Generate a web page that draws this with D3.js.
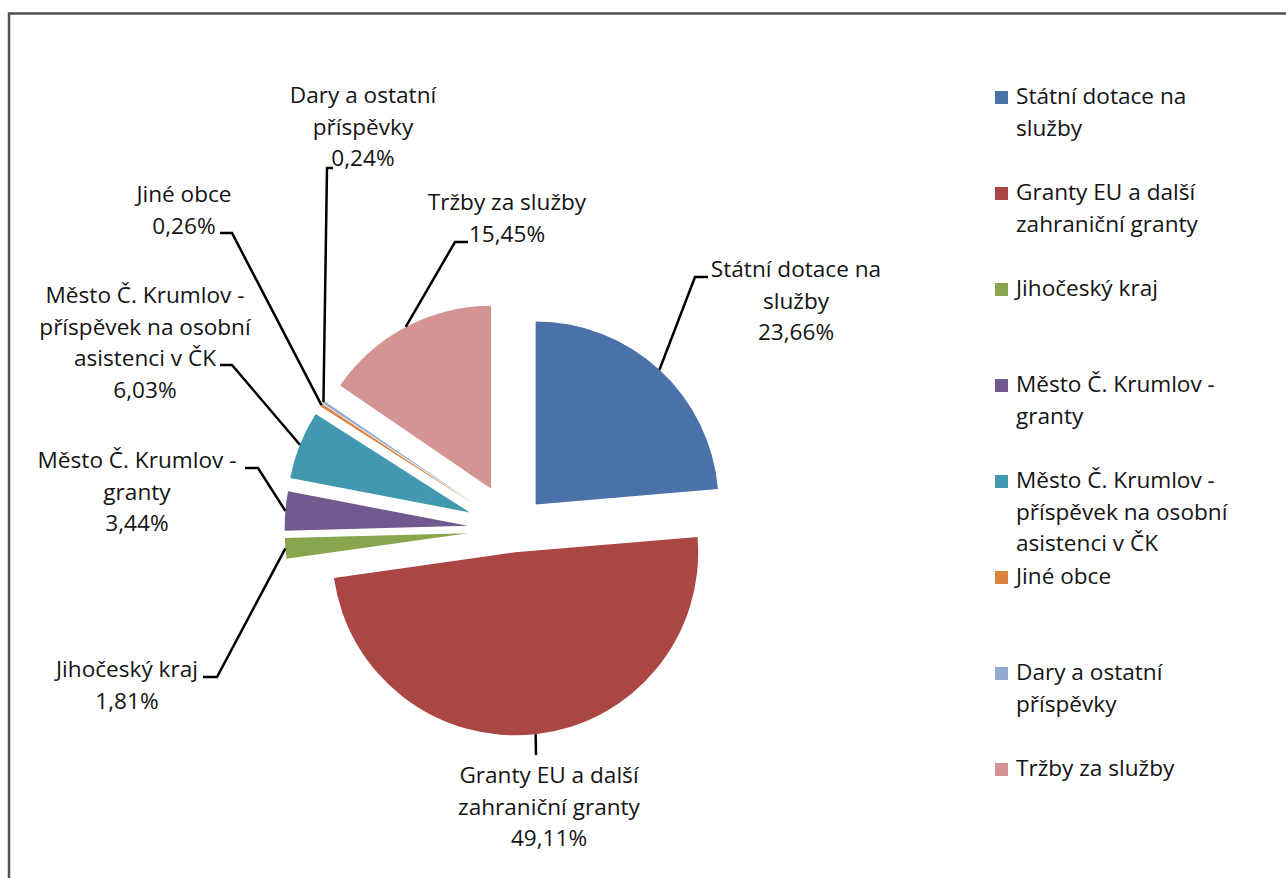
<!DOCTYPE html>
<html><head><meta charset="utf-8">
<script src="https://cdn.jsdelivr.net/npm/d3@7"></script>
<style>
body{margin:0;background:#fff}
svg{display:block}
text{font-family:"Open Sans",sans-serif;font-size:22.6px;fill:#141414}
</style>
</head><body>
<svg id="chart" width="1286" height="878"></svg>
<script>
// ---- data ----
const categories = [
  "Státní dotace na služby",
  "Granty EU a další zahraniční granty",
  "Jihočeský kraj",
  "Město Č. Krumlov - granty",
  "Město Č. Krumlov - příspěvek na osobní asistenci v ČK",
  "Jiné obce",
  "Dary a ostatní příspěvky",
  "Tržby za služby"
];
const values = [23.66, 49.11, 1.81, 3.44, 6.03, 0.26, 0.24, 15.45];

// ---- style / layout ----
const colors = ["#4A72A8", "#AA4643", "#89A54E", "#71588F", "#4198AF", "#DB843D", "#93A9CF", "#D39594"];
const explode = [34, 23, 45, 45, 46, 45, 45, 46];
const labelLayout = [
  {x: 796, y: 277, elbow: [695, 277], stub: [708, 277]},
  {x: 549, y: 783, elbow: [536, 755], stub: null},
  {x: 127, y: 677, elbow: [217, 677], stub: [203, 677]},
  {x: 137, y: 468, elbow: [258, 468], stub: [245, 468]},
  {x: 145, y: 303, elbow: [232, 365], stub: [220, 365]},
  {x: 184, y: 202, elbow: [232, 233], stub: [220, 233]},
  {x: 363, y: 103, elbow: [327, 168], stub: [333, 168]},
  {x: 507, y: 210, elbow: [455, 242], stub: [468, 242]}
];
const cx = 512.6, cy = 529.5, R = 183;
const lineH = 31.5;
const wrapWidth = 228;

const svg = d3.select("#chart");

// frame (only top/left edges visible)
svg.append("rect").attr("x", 9).attr("y", 13.5).attr("width", 1400).attr("height", 1000)
  .attr("fill", "none").attr("stroke", "#505050").attr("stroke-width", 2.5);

const fmt = v => d3.format(".2f")(v).replace(".", ",") + "%";

// word wrap using measured widths
const measurer = svg.append("text").attr("x", -1000).attr("y", -1000);
function wrap(str) {
  const words = str.split(" ");
  const lines = [];
  let cur = "";
  words.forEach(w => {
    const test = cur ? cur + " " + w : w;
    measurer.text(test);
    if (cur && measurer.node().getComputedTextLength() > wrapWidth) {
      lines.push(cur); cur = w;
    } else cur = test;
  });
  if (cur) lines.push(cur);
  return lines;
}

const pie = d3.pie().sort(null).startAngle(0).endAngle(2 * Math.PI).value(d => d);
const arcs = pie(values);
const arc = d3.arc().innerRadius(0).outerRadius(R);
const edgeArc = d3.arc().innerRadius(R).outerRadius(R);

function offsetOf(d, i) {
  const a = (d.startAngle + d.endAngle) / 2;
  return [Math.sin(a) * explode[i], -Math.cos(a) * explode[i]];
}

const g = svg.append("g").attr("transform", `translate(${cx},${cy})`);
g.selectAll("path.slice").data(arcs).join("path")
  .attr("class", "slice")
  .attr("d", arc)
  .attr("fill", (d, i) => colors[i])
  .attr("transform", (d, i) => { const o = offsetOf(d, i); return `translate(${o[0]},${o[1]})`; });

// leader lines
arcs.forEach((d, i) => {
  const o = offsetOf(d, i);
  const c = edgeArc.centroid(d);
  const p0 = [cx + c[0] + o[0], cy + c[1] + o[1]];
  const L = labelLayout[i];
  const pts = [p0, L.elbow];
  if (L.stub) pts.push(L.stub);
  svg.append("path").attr("d", d3.line()(pts))
    .attr("fill", "none").attr("stroke", "#000").attr("stroke-width", 2.5)
    .attr("stroke-linejoin", "miter");
});

// data labels
arcs.forEach((d, i) => {
  const L = labelLayout[i];
  const lines = wrap(categories[i]).concat([fmt(values[i])]);
  const t = svg.append("text").attr("text-anchor", "middle");
  lines.forEach((ln, k) => {
    t.append("tspan").attr("x", L.x).attr("y", L.y + k * lineH).text(ln);
  });
});

// legend
const legX = 995, legY0 = 104, legStep = 96, sq = 13;
const leg = svg.append("g");
categories.forEach((name, i) => {
  const y = legY0 + i * legStep;
  leg.append("rect").attr("x", legX).attr("y", y - 13).attr("width", sq).attr("height", sq)
    .attr("fill", colors[i]);
  const t = leg.append("text");
  wrap(name).forEach((ln, k) => {
    t.append("tspan").attr("x", legX + 21).attr("y", y + k * lineH).text(ln);
  });
});
measurer.remove();
</script>
</body></html>
